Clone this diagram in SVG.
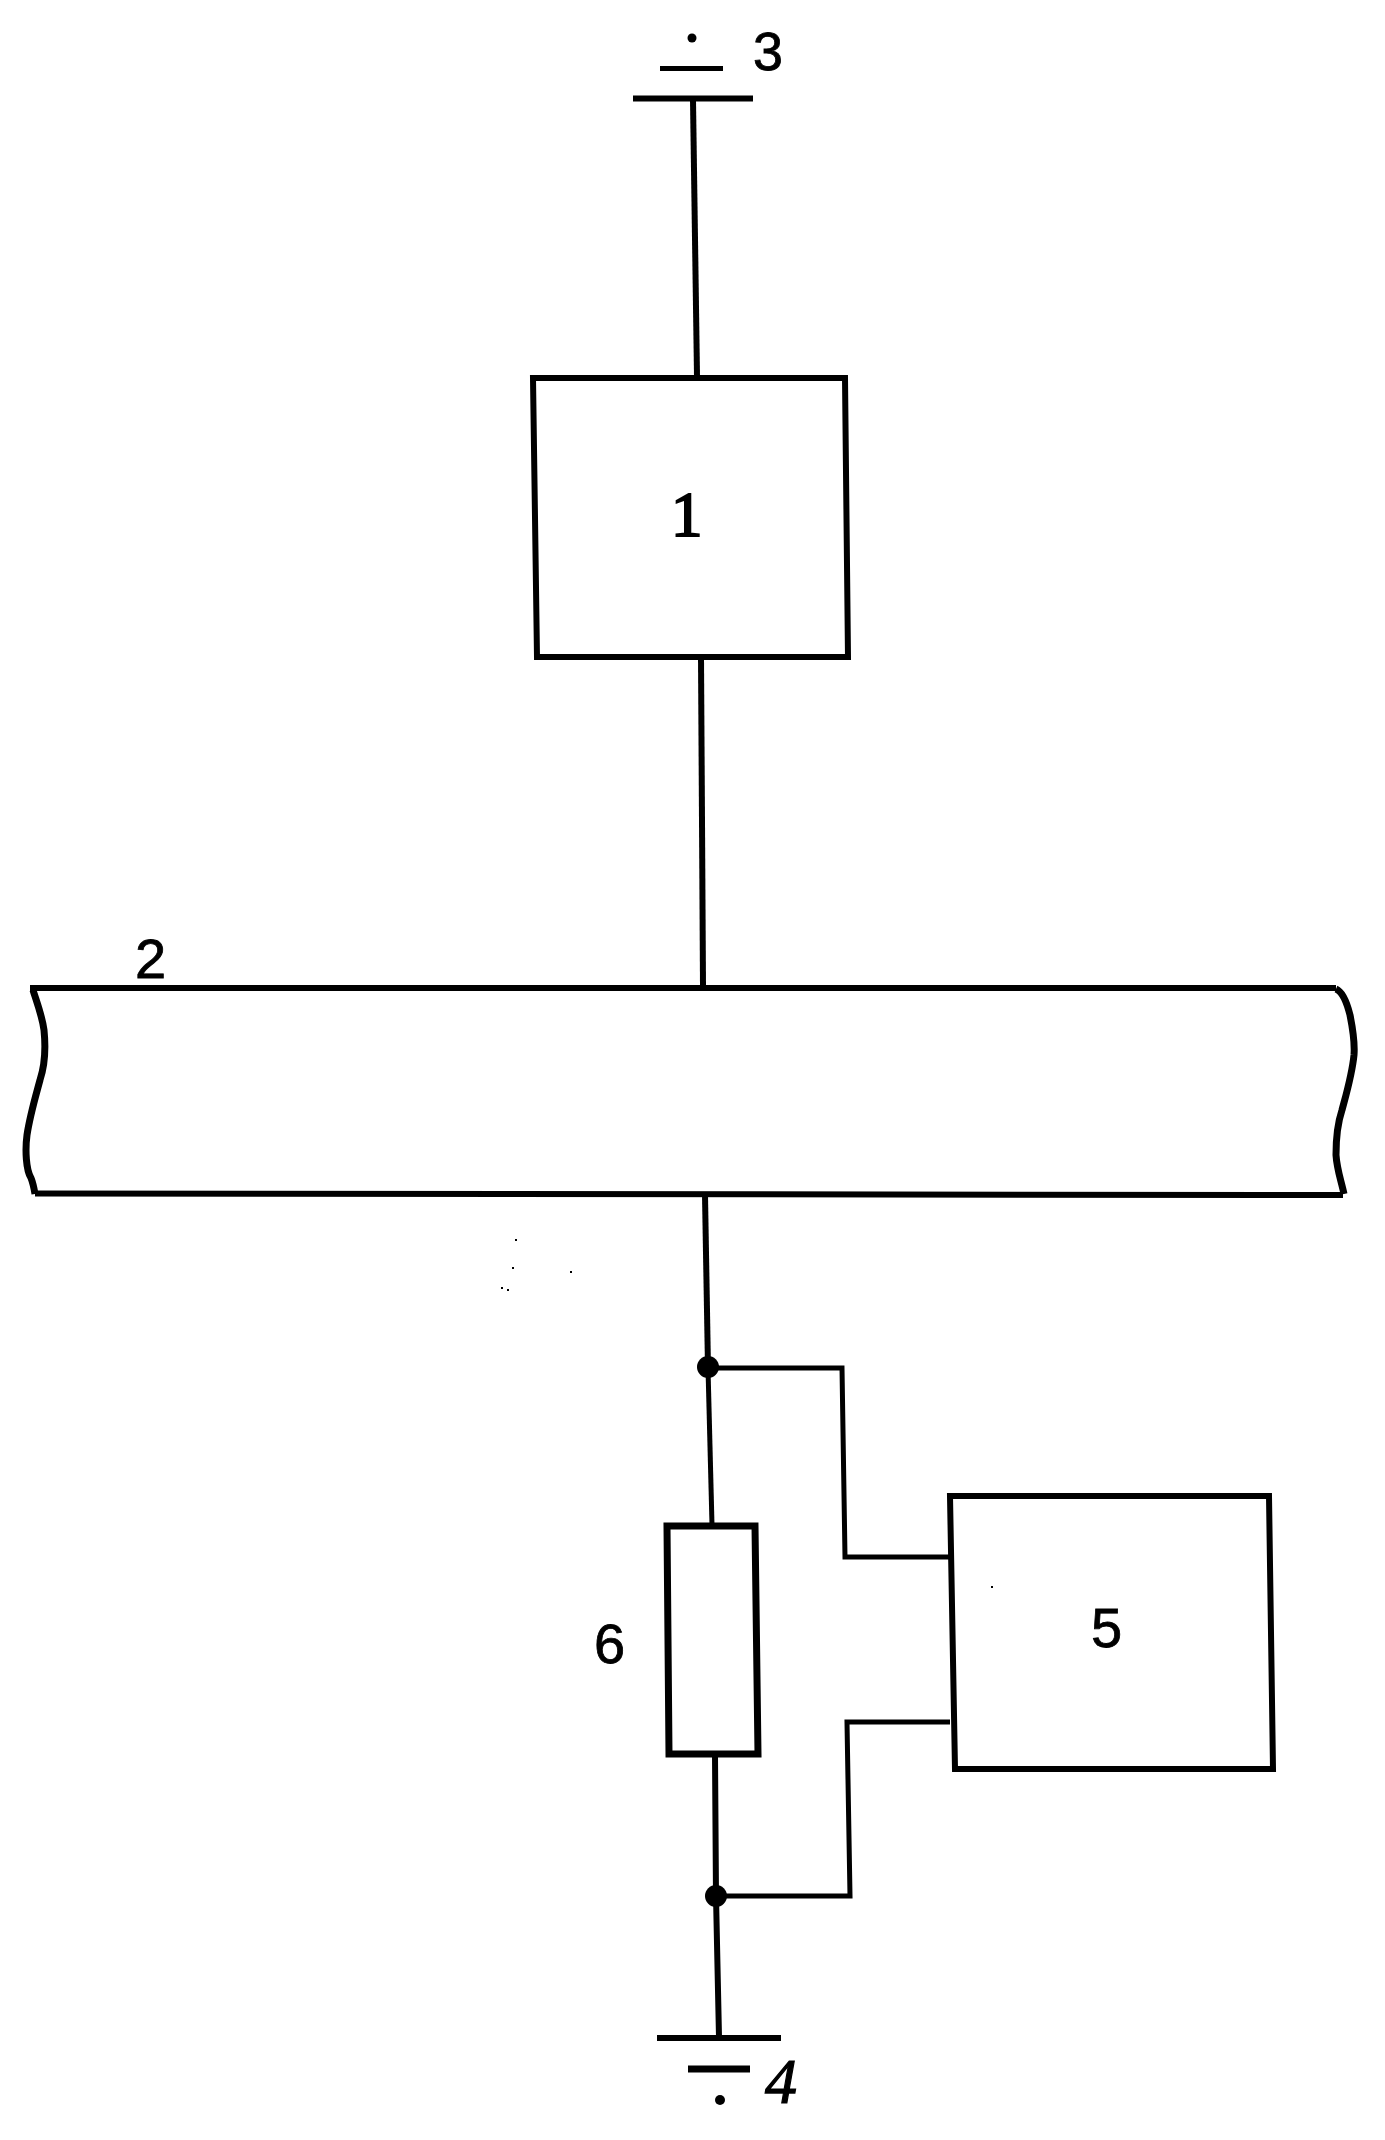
<svg xmlns="http://www.w3.org/2000/svg" width="1385" height="2140" viewBox="0 0 1385 2140">
<style>
.s{fill:none;stroke:#000;stroke-width:6;stroke-linejoin:miter;stroke-linecap:butt}
.t{stroke-width:7}
.n{stroke-width:5}
.w{fill:#000;stroke:#000;stroke-width:.8;font-family:"Liberation Sans",Arial,sans-serif;font-size:56px}
.b{fill:#000;stroke:#000;stroke-width:2;font-family:"Liberation Serif","Times New Roman",serif;font-size:63px}
.i{fill:#000;stroke:#000;stroke-width:1.2;font-family:"Liberation Serif","Times New Roman",serif;font-size:64px;font-style:italic}
.d{fill:#000}
</style>
<rect width="1385" height="2140" fill="#fff"/>
<g id="connectors">
<path class="s" d="M693 100L697 376"/>
<path class="s" d="M701 657L703 986"/>
<path class="s" d="M705 1195L708 1368"/>
<path class="s n" d="M708 1368L712 1525"/>
<path class="s n" d="M708 1368H842L845 1557H950"/>
<path class="s" d="M715 1755L716 1896L719 2037"/>
<path class="s n" d="M716 1896H850L847 1722H950"/>
<circle class="d" cx="708" cy="1367" r="11"/>
<circle class="d" cx="716" cy="1896" r="11"/>
</g>
<g id="node-3">
<circle class="d" cx="692" cy="38" r="4.5"/>
<path class="s n" d="M660 68.500H723"/>
<path class="s" d="M633 98.500H753"/>
<text class="w" x="753" y="70" style="font-size:54px">3</text>
</g>
<g id="node-1">
<path class="s" d="M533 378H845L848 657H537Z"/>
<text class="b" x="671" y="536">1</text>
</g>
<g id="node-2">
<path class="s" d="M30 988H1336"/>
<path class="s" d="M35 1193.500L1343 1195"/>
<path class="s t" d="M33 990C36 1000 42 1015 44 1030C46 1050 44 1068 40 1080C36 1095 30 1115 27 1135C25 1150 26 1170 31 1178C33 1183 34 1188 35 1194"/>
<path class="s t" d="M1336 989C1343 992 1347 1003 1350 1015C1353 1030 1355 1042 1354 1055C1352 1075 1346 1095 1342 1110C1337 1125 1336 1140 1336 1155C1337 1170 1341 1180 1344 1194"/>
<text class="w" x="135" y="978">2</text>
</g>
<g id="node-6">
<path class="s t" d="M667 1526H755L758 1754H669Z"/>
<text class="w" x="594" y="1663">6</text>
</g>
<g id="node-5">
<path class="s" d="M950 1496H1269L1273 1769H955Z"/>
<text class="w" x="1091" y="1647">5</text>
</g>
<g id="node-4">
<path class="s" d="M657 2038H781"/>
<path class="s t" d="M688 2069H750"/>
<circle class="d" cx="720" cy="2100" r="5"/>
<text class="i" x="765" y="2103">4</text>
</g>
<g id="specks" class="d">
<rect x="515" y="1239" width="2" height="2"/>
<rect x="512" y="1267" width="2" height="2"/>
<rect x="570" y="1271" width="2" height="2"/>
<rect x="501" y="1287" width="2" height="2"/>
<rect x="507" y="1289" width="2" height="2"/>
<rect x="991" y="1586" width="2" height="2"/>
</g>
</svg>
